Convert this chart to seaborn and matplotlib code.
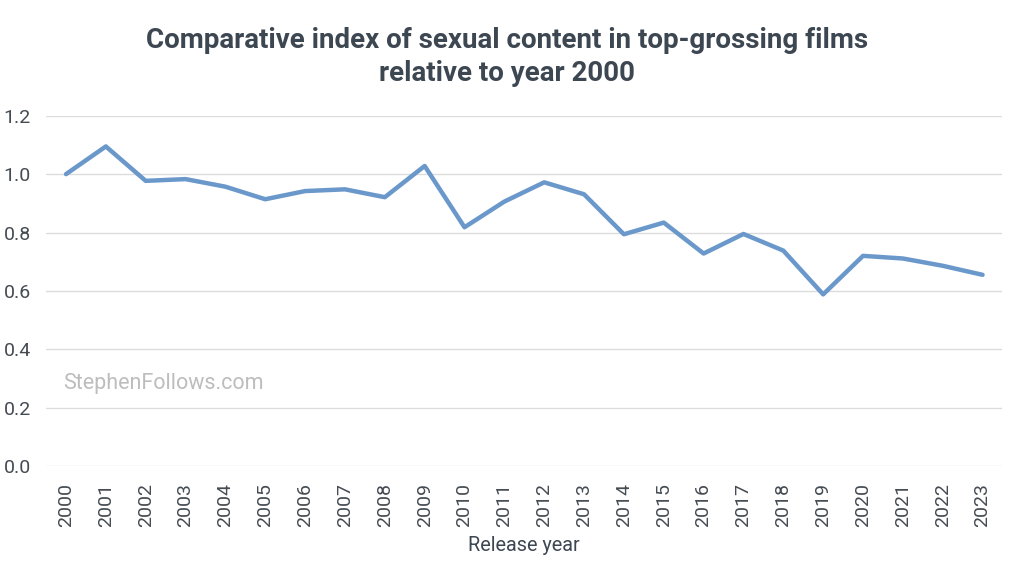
import matplotlib
matplotlib.use("Agg")
import matplotlib.pyplot as plt
import seaborn as sns
import pandas as pd

years = list(range(2000, 2024))
index_values = [1.0, 1.095, 0.977, 0.983, 0.957, 0.914, 0.942, 0.948, 0.921, 1.028,
                0.818, 0.906, 0.972, 0.931, 0.794, 0.834, 0.728, 0.795, 0.738, 0.588,
                0.72, 0.711, 0.686, 0.655]
y_ticks = [0.0, 0.2, 0.4, 0.6, 0.8, 1.0, 1.2]

sns.set_theme(style="white")
plt.rcParams['font.family'] = ['Roboto', 'DejaVu Sans']

df = pd.DataFrame({"year": years, "index": index_values})

fig = plt.figure(figsize=(10.24, 5.76), dpi=100)
ax = fig.add_axes([0.045, 0.191, 0.934, 0.608])
text_col = "#3d4752"

sns.lineplot(data=df, x="year", y="index", ax=ax, color="#6a98cb", linewidth=3.2)

ax.set_xlim(1999.5, 2023.5)
ax.set_ylim(0, 1.2)
ax.set_yticks(y_ticks)
ax.set_yticklabels([f"{v:.1f}" for v in y_ticks])
ax.set_xticks(years)
ax.set_xticklabels([str(y) for y in years], rotation=90)
ax.tick_params(axis="both", length=0, labelsize=14, colors="#444b52")
ax.tick_params(axis="x", pad=12)
ax.tick_params(axis="y", pad=11)
ax.yaxis.grid(True, color="#dcdcdc", linewidth=1)
ax.xaxis.grid(False)
for s in ax.spines.values():
    s.set_visible(False)
ax.set_axisbelow(True)

ax.set_xlabel("Release year", fontsize=14.3, color=text_col, labelpad=7)
ax.set_ylabel("")

fig.text(0.495, 0.93, "Comparative index of sexual content in top-grossing films",
         ha="center", va="center", fontsize=20, fontweight="bold", color=text_col)
fig.text(0.495, 0.873, "relative to year 2000",
         ha="center", va="center", fontsize=20, fontweight="bold", color=text_col)

fig.text(0.062, 0.335, "StephenFollows.com", fontsize=15.5, color="#bdbdbd", va="center")

fig.savefig("out.png", dpi=100, facecolor="white")
